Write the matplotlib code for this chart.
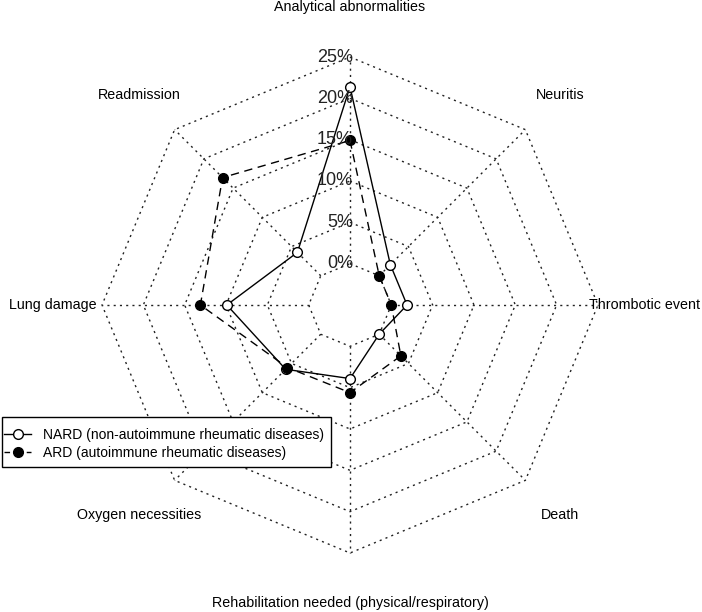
import numpy as np
import matplotlib.pyplot as plt
from matplotlib.lines import Line2D
from matplotlib.patches import Rectangle

plt.rcParams['font.family'] = ['Liberation Sans', 'DejaVu Sans']

# axes, clockwise from the top
categories = ['Analytical abnormalities', 'Neuritis', 'Thrombotic event', 'Death',
              'Rehabilitation needed (physical/respiratory)', 'Oxygen necessities',
              'Lung damage', 'Readmission']
nard = [21.4, 1.9, 1.9, 0.0, 3.9, 6.0, 9.9, 4.0]
ard = [14.9, 0.0, 0.0, 3.7, 5.6, 5.7, 13.1, 16.8]
tick_labels = ['0%', '5%', '10%', '15%', '20%', '25%']
series_names = ['NARD (non-autoimmune rheumatic diseases)',
                'ARD (autoimmune rheumatic diseases)']
vmin, vmax = 0, 25
seg = 5


def main():
    fig = plt.figure(figsize=(7.02, 6.12), dpi=100)
    ax = fig.add_axes([0, 0, 1, 1])
    R = 248.0
    ax.set_xlim(-350 / R, 352 / R)
    ax.set_ylim(-(612 - 305) / R, 305 / R)
    ax.set_aspect('equal')
    ax.axis('off')

    n = len(categories)
    ang = np.pi / 2 - np.arange(n) * 2 * np.pi / n
    cx, cy = np.cos(ang), np.sin(ang)

    # octagon rings, 1/(seg+1) .. 1
    dots = (0, (1.5, 3))
    for k in range(1, seg + 2):
        r = k / (seg + 1)
        ax.plot(np.append(cx, cx[0]) * r, np.append(cy, cy[0]) * r,
                ls=dots, color='#222222', lw=1)
    r0 = 1 / (seg + 1)
    for i in range(n):
        ax.plot([cx[i] * r0, cx[i]], [cy[i] * r0, cy[i]],
                ls=dots, color='#222222', lw=1)

    for i, lab in enumerate(categories):
        x = cx[i] * 1.2
        if i == 2:
            x -= 3 / R  # keep inside the right edge
        ax.text(x, cy[i] * 1.2, lab, ha='center', va='center', fontsize=10.3)

    for k, t in enumerate(tick_labels):
        r = (k + 1) / (seg + 1)
        ax.text(3 / R, r, t, ha='right', va='center', fontsize=13, color='#222222')

    def scale(v):
        v = np.array(v, dtype=float)
        return r0 + (v - vmin) / (vmax - vmin) * (1 - r0)

    for vals, ls, fc in [(nard, '-', 'white'), (ard, (0, (6, 4)), 'black')]:
        r = scale(vals)
        xs, ys = r * cx, r * cy
        ax.plot(np.append(xs, xs[0]), np.append(ys, ys[0]), ls=ls, color='black', lw=1)
        ax.plot(xs, ys, 'o', ms=7, mfc=fc, mec='black', mew=1, ls='none')

    handles = [
        Line2D([], [], color='black', ls='-', lw=1, marker='o', ms=7, mfc='white', mec='black'),
        Line2D([], [], color='black', ls=(0, (4, 4)), lw=1, marker='o', ms=7, mfc='black', mec='black'),
    ]
    leg = fig.legend(handles, series_names, loc='upper left',
                     bbox_to_anchor=(4 / 702, 1 - 428 / 612), borderaxespad=0,
                     fontsize=10, frameon=False, handlelength=1.95, borderpad=0,
                     labelspacing=0.28, handletextpad=0.85)
    leg.set_zorder(6)
    fig.patches.append(Rectangle((2 / 702, 1 - 467 / 612), 329 / 702, 50 / 612,
                                 transform=fig.transFigure, facecolor='white',
                                 edgecolor='black', lw=1, zorder=5))

    fig.savefig('out.png', dpi=100)


if __name__ == '__main__':
    main()
